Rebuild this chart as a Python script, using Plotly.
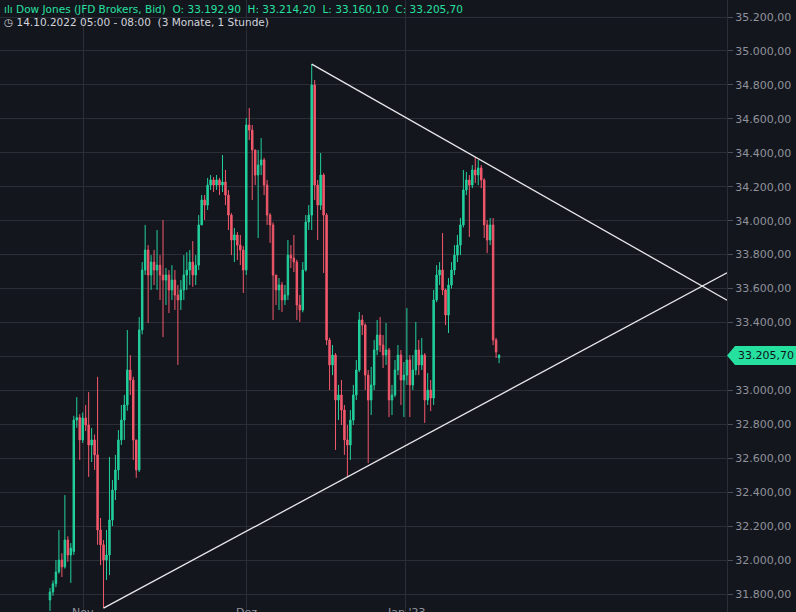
import plotly.graph_objects as go

# ---------------- data (hourly candles) ----------------
opens = [31765, 31812, 31860, 31930, 32000, 31960, 32118, 32030, 32050, 32825,
         32840, 32708, 32837, 32796, 32678, 32708, 32620, 32177, 32090, 32000,
         32030, 32236, 32413, 32531, 32708, 32825, 32914, 33120, 33061, 32708,
         32531, 33356, 33709, 33827, 33680, 33756, 33709, 33738, 33680, 33650,
         33680, 33592, 33650, 33562, 33533, 33592, 33680, 33709, 33756, 33680,
         33738, 33975, 34122, 34092, 34210, 34240, 34210, 34240, 34210, 34228,
         34151, 34033, 33886, 33916, 33856, 33827, 33709, 34564, 34534, 34417,
         34269, 34328, 34358, 34210, 34033, 33975, 33680, 33592, 33621, 33533,
         33562, 33797, 33780, 33756, 33503, 33474, 33709, 33992, 34033, 34800,
         34210, 34092, 34269, 34033, 33297, 33150, 33208, 32943, 32973, 32884,
         32708, 32678, 32825, 32973, 33120, 33415, 33385, 33090, 32943, 33032,
         33238, 33326, 33267, 33208, 33238, 32943, 32973, 33120, 33208, 33061,
         33090, 33179, 33032, 33120, 33238, 33150, 33208, 32943, 33002, 32955,
         33533, 33680, 33709, 33592, 33444, 33621, 33709, 33797, 33856, 33975,
         34181, 34240, 34210, 34299, 34269, 34311, 34240, 33975, 33886, 33975,
         33297, 33192.9]
highs = [31836, 31880, 32000, 32177, 32040, 32383, 32140, 32100, 32850, 32960,
         32860, 32870, 32914, 32990, 32778, 32740, 33080, 32248, 32118, 32177,
         32607, 32472, 32620, 32766, 32914, 32973, 33356, 33208, 33080, 32708,
         33432, 33756, 33975, 33856, 33797, 33827, 33945, 33797, 34004, 33721,
         33709, 33738, 33709, 33621, 33650, 33797, 33815, 33827, 33880, 33797,
         34033, 34151, 34151, 34252, 34269, 34257, 34269, 34252, 34387, 34299,
         34181, 34045, 33957, 33933, 33916, 33850, 34605, 34664, 34564, 34417,
         34417, 34487, 34370, 34240, 34045, 33990, 33680, 33662, 33639, 33621,
         33886, 33856, 33916, 33770, 33562, 33756, 34033, 34092, 34923, 34829,
         34240, 34399, 34280, 34045, 33310, 33267, 33220, 33032, 33061, 32914,
         32796, 32884, 33032, 33179, 33462, 33444, 33395, 33120, 33138, 33297,
         33415, 33432, 33326, 33397, 33250, 33032, 33179, 33267, 33238, 33167,
         33485, 33208, 33208, 33403, 33297, 33309, 33220, 33102, 33061, 33592,
         33738, 33756, 33927, 33600, 33662, 33756, 33856, 33916, 34016, 34299,
         34287, 34269, 34328, 34375, 34358, 34328, 34250, 34004, 34016, 34016,
         33309, 33214.2]
lows = [31700, 31790, 31840, 31920, 31900, 31950, 31990, 31865, 32030, 32780,
        32590, 32690, 32760, 32490, 32578, 32531, 32090, 31970, 31717, 31883,
        31912, 32200, 32354, 32472, 32678, 32708, 32880, 32973, 32590, 32484,
        32519, 33330, 33680, 33397, 33592, 33621, 33592, 33533, 33314, 33503,
        33456, 33533, 33474, 33150, 33474, 33533, 33592, 33621, 33610, 33621,
        33709, 33975, 34004, 34063, 34181, 34169, 34181, 34151, 34169, 34092,
        33945, 33797, 33756, 33768, 33739, 33574, 33680, 34475, 34122, 34210,
        33898, 34269, 34151, 33975, 33869, 33415, 33503, 33474, 33462, 33503,
        33533, 33721, 33697, 33415, 33403, 33460, 33700, 33945, 33945, 34122,
        33886, 34063, 33692, 33267, 33002, 33090, 32649, 32825, 32796, 32620,
        32490, 32590, 32796, 32943, 33108, 33326, 33002, 32572, 32855, 33002,
        33208, 33226, 33132, 33150, 32843, 32855, 32960, 33090, 32914, 32843,
        33032, 32843, 33002, 33090, 33090, 33120, 32808, 32914, 32878, 32914,
        33520, 33621, 33562, 33385, 33338, 33600, 33680, 33756, 33797, 33960,
        34151, 33904, 34192, 34222, 34210, 34192, 33898, 33809, 33856, 33267,
        33191, 33160.1]
closes = [31812, 31860, 31930, 32000, 31960, 32118, 32030, 32070, 32825, 32840,
          32708, 32837, 32796, 32678, 32708, 32620, 32177, 32090, 32000, 32030,
          32236, 32413, 32531, 32708, 32825, 32914, 33120, 33061, 32708, 32531,
          33356, 33709, 33827, 33680, 33756, 33709, 33738, 33680, 33650, 33680,
          33592, 33650, 33562, 33533, 33592, 33680, 33709, 33756, 33680, 33738,
          33975, 34122, 34092, 34210, 34240, 34210, 34240, 34210, 34228, 34151,
          34033, 33886, 33916, 33856, 33827, 33709, 34564, 34534, 34417, 34269,
          34328, 34358, 34210, 34033, 33975, 33680, 33592, 33621, 33533, 33562,
          33797, 33780, 33756, 33503, 33474, 33709, 33992, 34033, 34800, 34210,
          34092, 34269, 34033, 33297, 33150, 33208, 32943, 32973, 32884, 32708,
          32678, 32825, 32973, 33120, 33415, 33385, 33090, 32943, 33032, 33238,
          33326, 33267, 33208, 33238, 32943, 32973, 33120, 33208, 33061, 33090,
          33179, 33032, 33120, 33238, 33150, 33208, 32943, 33002, 32955, 33533,
          33680, 33709, 33592, 33444, 33621, 33709, 33797, 33856, 33975, 34181,
          34240, 34210, 34299, 34269, 34311, 34240, 33975, 33886, 33975, 33297,
          33226, 33205.7]

# month labels (German) and the candle index where each month starts
month_labels = ["Nov", "Dez", "Jan '23"]
month_index = [11.1, 66.2, 119.6]

y_ticks = [31800, 32000, 32200, 32400, 32600, 32800, 33000, 33200, 33400,
           33600, 33800, 34000, 34200, 34400, 34600, 34800, 35000, 35200]
# tick label hidden behind the last-price label
hidden_tick = 33200

# trendline anchor candles (descending through highs, ascending through lows)
down_anchor = [88, 143]
up_anchor = [18, 100]

title_line = "Dow Jones (JFD Brokers, Bid)"
info_line = "14.10.2022 05:00 - 08:00  (3 Monate, 1 Stunde)"

# ---------------- styling ----------------
BG = "#14161e"
GRID = "#2b2e37"
UP = "#22d09b"
DOWN = "#f2586b"
LABEL_GREEN = "#26e0a0"
AXIS_TXT = "#8f929b"
FONT = "DejaVu Sans"

x_range = [-16.81, 227.64]
y_range = [31694, 35300.5]

idx = list(range(len(closes)))

def fmt(v):
    s = f"{v:,.2f}"
    return s.replace(",", "X").replace(".", ",").replace("X", ".")

y_ticktext = ["" if t == hidden_tick else fmt(t) for t in y_ticks]

fig = go.Figure()
fig.add_trace(go.Candlestick(
    x=idx, open=opens, high=highs, low=lows, close=closes,
    increasing=dict(line=dict(color=UP, width=1), fillcolor=UP),
    decreasing=dict(line=dict(color=DOWN, width=1), fillcolor=DOWN),
    whiskerwidth=0, showlegend=False, hoverinfo="skip"))

# trendlines extended to the right edge
def ext_line(i0, v0, i1, v1):
    slope = (v1 - v0) / (i1 - i0)
    return [i0, x_range[1]], [v0, v0 + slope * (x_range[1] - i0)]

dx, dy = ext_line(down_anchor[0], highs[down_anchor[0]], down_anchor[1], highs[down_anchor[1]])
ux, uy = ext_line(up_anchor[0], lows[up_anchor[0]], up_anchor[1], lows[up_anchor[1]])
for xs, ys in [(dx, dy), (ux, uy)]:
    fig.add_trace(go.Scatter(x=xs, y=ys, mode="lines",
                             line=dict(color="#e8e8ea", width=1.3),
                             showlegend=False, hoverinfo="skip", cliponaxis=True))

W, H = 796, 612
PLOT_W = 727
last = closes[-1]
yp = (last - y_range[0]) / (y_range[1] - y_range[0])
hh = 9.5 / H
notch = 8 / PLOT_W
right = W / PLOT_W
fig.add_shape(type="path", xref="paper", yref="paper", layer="above",
              path=f"M 1,{yp} L {1+notch},{yp+hh} L {right},{yp+hh} L {right},{yp-hh} L {1+notch},{yp-hh} Z",
              fillcolor=LABEL_GREEN, line=dict(width=0))
fig.add_annotation(xref="paper", yref="paper", x=1, y=yp, xanchor="left", yanchor="middle",
                   xshift=9, text=fmt(last), showarrow=False,
                   font=dict(family=FONT, size=11, color="#10131a"))

# month labels at the very bottom (cut off like in the original)
for lab, pos in zip(month_labels, month_index):
    fig.add_annotation(x=pos, xref="x", y=0, yref="paper", yanchor="top", yshift=8,
                       text=lab, showarrow=False,
                       font=dict(family=FONT, size=11, color=AXIS_TXT))

# header lines
ohlc = f"O: {fmt(opens[-1])}  H: {fmt(highs[-1])}  L: {fmt(lows[-1])}  C: {fmt(closes[-1])}"
fig.add_annotation(xref="paper", yref="paper", x=0, y=1 - 9 / H, xanchor="left", yanchor="middle",
                   xshift=2, text=f"ılı {title_line}  {ohlc}", showarrow=False,
                   font=dict(family=FONT, size=10.5, color=LABEL_GREEN))
fig.add_annotation(xref="paper", yref="paper", x=0, y=1 - 22 / H, xanchor="left", yanchor="middle",
                   xshift=2, text=f"◷ {info_line}", showarrow=False,
                   font=dict(family=FONT, size=10.5, color="#d1d4dc"))

fig.update_layout(
    width=W, height=H,
    margin=dict(l=0, r=W - PLOT_W, t=0, b=0),
    paper_bgcolor=BG, plot_bgcolor=BG,
    showlegend=False,
    font=dict(family=FONT, color=AXIS_TXT),
    xaxis=dict(range=x_range, tickvals=month_index, showticklabels=False,
               showgrid=True, gridcolor=GRID, gridwidth=1, zeroline=False,
               rangeslider=dict(visible=False), fixedrange=True, ticks=""),
    yaxis=dict(range=y_range, side="right", tickvals=y_ticks, ticktext=y_ticktext,
               showgrid=True, gridcolor=GRID, gridwidth=1, zeroline=False,
               ticks="outside", ticklen=5, tickcolor="#4a4d56",
               showline=True, linecolor=GRID, linewidth=1,
               tickfont=dict(family=FONT, size=11, color=AXIS_TXT),
               fixedrange=True),
)

fig.write_html("out.html", config={"displayModeBar": False},
               post_script="document.body.style.margin='0';document.body.style.background='" + BG + "';")
